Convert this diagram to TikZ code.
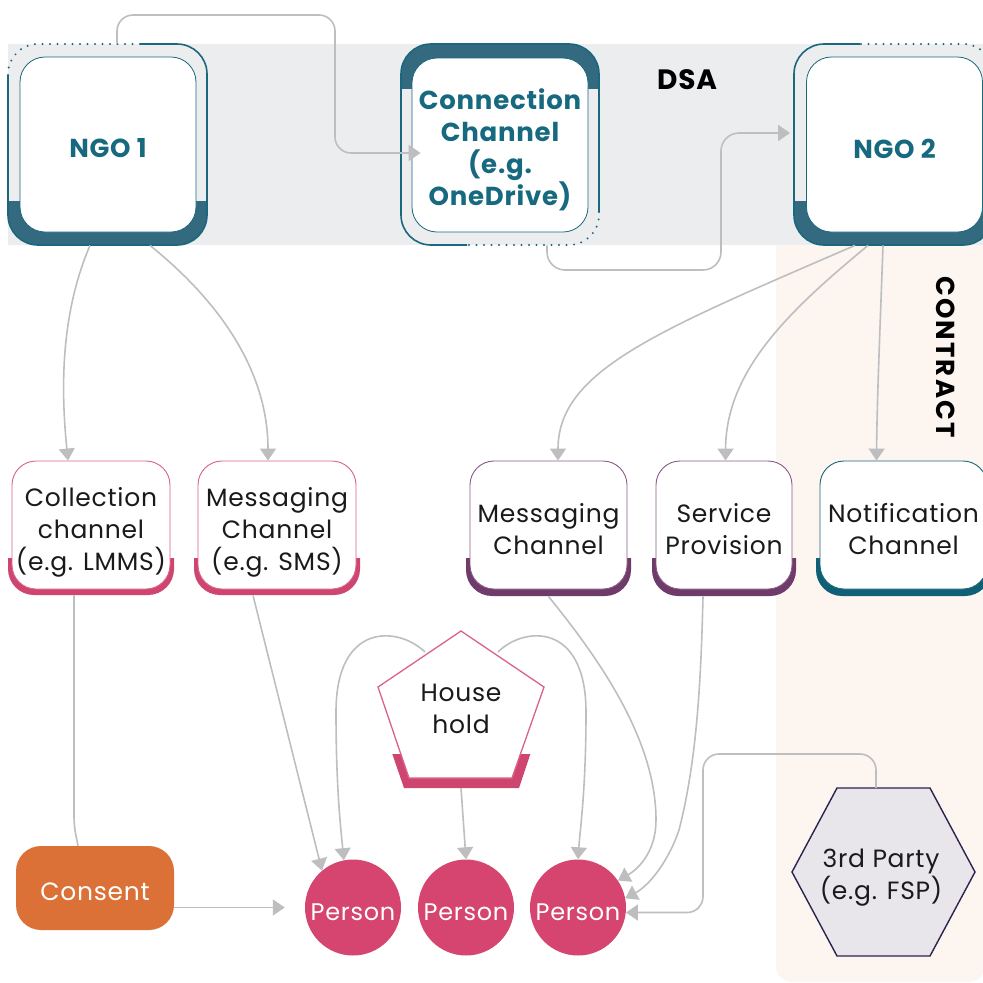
\documentclass[tikz,border=0pt]{standalone}
\usepackage{fontspec}
\setmainfont{Poppins}[LetterSpace=3]
\usetikzlibrary{arrows.meta,calc}
\definecolor{dsabg}{HTML}{ECEDEF}
\definecolor{ctbg}{HTML}{FCF5F0}
\definecolor{tealline}{HTML}{1B677D}
\definecolor{tealband}{HTML}{336A80}
\definecolor{tealtext}{HTML}{17697F}
\definecolor{pinkband}{HTML}{CE4670}
\definecolor{pinkline}{HTML}{DA6289}
\definecolor{purpband}{HTML}{6E3B6A}
\definecolor{purpline}{HTML}{8A5A86}
\definecolor{notband}{HTML}{0F6077}
\definecolor{conncol}{HTML}{BDBEC0}
\definecolor{personcol}{HTML}{D5456F}
\definecolor{consentcol}{HTML}{DC7138}
\definecolor{hexfill}{HTML}{E8E6EB}
\definecolor{hexline}{HTML}{2C2350}
\definecolor{txt}{HTML}{1A1A1A}
\begin{document}
\begin{tikzpicture}[x=1pt,y=-1pt,
 conn/.style={draw=conncol,line width=1.6pt,-{Triangle[length=12pt,width=16pt]}},
 plainconn/.style={draw=conncol,line width=1.6pt},
 ngobox/.style={draw=tealline,line width=0.8pt,fill=white,rounded corners=25pt,minimum width=176pt,minimum height=175pt,inner sep=0pt},
 ngotext/.style={align=center,text=tealtext,inner sep=0pt,font=\fontsize{26}{32}\selectfont\bfseries},
 chan/.style={draw=#1,line width=0.9pt,fill=white,rounded corners=24pt,minimum height=128pt,inner sep=0pt},
 chantext/.style={align=center,text=txt,font=\fontsize{25}{32}\selectfont,inner sep=0pt},
 person/.style={circle,fill=personcol,minimum size=96pt,inner sep=0pt,text=white,text height=25pt,text depth=0pt,font=\fontsize{24}{28}\selectfont},
 dotline/.style={draw=tealline,line width=2.2pt,dash pattern=on 0pt off 7.5pt,line cap=round},
 outline/.style={draw=tealline,line width=1.6pt},
 plaintext/.style={align=center,text=txt,font=\fontsize{25}{32}\selectfont,inner sep=0pt},
]
\useasboundingbox (0,0) rectangle (983,983);
\clip (0,0) rectangle (983,983);
% backgrounds
\fill[ctbg,rounded corners=16pt] (776,200) rectangle (985,982);
\fill[dsabg] (8,44) rectangle (990,245);

% NGO 1 frame
\begin{scope}
\clip (0,201) rectangle (220,260);
\fill[tealband,rounded corners=30pt] (8,44) rectangle (207,245);
\end{scope}
\draw[outline,rounded corners=30pt] (140,44) -- (207,44) -- (207,245) -- (8,245) -- (8,75);
\draw[dotline,rounded corners=30pt] (8,75) -- (8,44) -- (140,44);
% Connection channel frame
\begin{scope}
\clip (390,30) rectangle (610,88);
\fill[tealband,rounded corners=30pt] (401,44) rectangle (599,245);
\end{scope}
\draw[outline,rounded corners=30pt] (467,245) -- (401,245) -- (401,44) -- (599,44) -- (599,212);
\draw[dotline,rounded corners=30pt] (599,212) -- (599,245) -- (467,245);
% NGO 2 frame
\begin{scope}
\clip (780,201) rectangle (1000,260);
\fill[tealband,rounded corners=30pt] (794,44) rectangle (993,245);
\end{scope}
\draw[outline,rounded corners=30pt] (860,44) -- (794,44) -- (794,245) -- (993,245) -- (993,75);
\draw[dotline,rounded corners=30pt] (993,75) -- (993,44) -- (860,44);

\node[ngobox,label={[ngotext,yshift=-4pt]center:NGO 1}] (n1) at (108,144.5) {};
\node[ngobox,minimum height=174pt,label={[ngotext,yshift=-5pt]center:{Connection\\Channel\\(e.g.\\OneDrive)}}] (cc) at (500,145) {};
\node[ngobox,label={[ngotext,yshift=-4pt]center:NGO 2}] (n2) at (894.5,144.5) {};

\node[font=\fontsize{28}{30}\selectfont\bfseries,text=black] (dsa) at (687,80) {DSA};
\node[font=\fontsize{26}{28}\selectfont\bfseries\addfontfeatures{LetterSpace=8},text=black,rotate=-90] (ct) at (946,357) {CONTRACT};

% channel bands
\begin{scope}
\clip (0,558) rectangle (983,600);
\fill[pinkband,rounded corners=26pt] (8,461) rectangle (174,595);
\fill[pinkband,rounded corners=26pt] (194,461) rectangle (360,595);
\fill[purpband,rounded corners=26pt] (466,461) rectangle (631,596);
\fill[purpband,rounded corners=26pt] (652,461) rectangle (796,596);
\fill[notband,rounded corners=26pt] (816,461) rectangle (991,596);
\end{scope}
\node[chan=pinkline,minimum width=158pt,label={[chantext,yshift=-7pt]center:{Collection\\channel\\(e.g. LMMS)}}] (c1) at (91,525) {};
\node[chan=pinkline,minimum width=158pt,label={[chantext,yshift=-7pt]center:{Messaging\\Channel\\(e.g. SMS)}}] (c2) at (277,525) {};
\node[chan=purpline,minimum width=157pt,label={[chantext,yshift=-4pt]center:{Messaging\\Channel}}] (m2) at (548.5,525) {};
\node[chan=purpline,minimum width=136pt,label={[chantext,yshift=-4pt]center:{Service\\Provision}}] (sp) at (724,525) {};
\node[chan=tealline,minimum width=167pt,label={[chantext,yshift=-4pt]center:{Notification\\Channel}}] (nc) at (903.5,525) {};

% household
\begin{scope}
\clip (360,754) rectangle (560,800);
\fill[pinkband] (461,636) -- (551,692) -- (519,788) -- (404,788) -- (371,692) -- cycle;
\end{scope}
\draw[draw=pinkline,line width=1.3pt,fill=white] (461,631) -- (544,687) -- (512,778) -- (409,778) -- (378,687) -- cycle;
\node[plaintext] (hh) at (461,709) {House\\hold};
\coordinate (hhL) at (425,652);
\coordinate (hhR) at (498,652);
\coordinate (hhB) at (461,788);

% third party
\draw[draw=hexline,line width=1.4pt,fill=hexfill] (837,788) -- (930,788) -- (975,872) -- (930,956) -- (837,956) -- (792,872) -- cycle;
\node[plaintext] (tp) at (881,878) {3rd Party\\(e.g. FSP)};
\coordinate (tpT) at (876,788);

% consent and persons
\node[fill=consentcol,rounded corners=25pt,minimum width=158pt,minimum height=84pt,inner sep=0pt,text=white,text height=24pt,text depth=0pt,font=\fontsize{25}{30}\selectfont] (cons) at (95,888) {Consent};
\node[person] (p1) at (353,907.5) {Person};
\node[person] (p2) at (466,907.5) {Person};
\node[person] (p3) at (578,907.5) {Person};

% connectors
\draw[conn,rounded corners=16pt] ([xshift=9pt,yshift=13pt]n1.north) |- (335,15) |- ([xshift=9pt,yshift=-8pt]cc.west);
\draw[conn,rounded corners=18pt] ([xshift=47pt,yshift=-13pt]cc.south) |- (721,270) |- ([xshift=-16pt,yshift=11.5pt]n2.west);
\draw[conn] ([xshift=-18pt,yshift=-13pt]n1.south) .. controls (58,320) and (62,400) .. ([xshift=-23pt]c1.north);
\draw[conn] ([xshift=42pt,yshift=-13pt]n1.south) .. controls (230,310) and (268,380) .. ([xshift=-9pt]c2.north);
\draw[conn] ([xshift=-39.5pt,yshift=-13pt]n2.south) .. controls (660,330) and (558,370) .. ([xshift=9.5pt]m2.north);
\draw[conn] ([xshift=-26.5pt,yshift=-13pt]n2.south) .. controls (790,310) and (726,370) .. ([xshift=1.5pt]sp.north);
\draw[conn] ([xshift=-11.5pt,yshift=-13pt]n2.south) .. controls (880,330) and (877,400) .. ([xshift=-27pt]nc.north);
\draw[plainconn] ([xshift=-17pt,yshift=-6pt]c1.south) -- (74,815) .. controls (74,832) and (77,838) .. ([xshift=-17pt]cons.north);
\draw[conn] ([yshift=-19.5pt]cons.east) -- ([xshift=-20pt]p1.west);
\draw[conn] ([xshift=-24pt,yshift=-6pt]c2.south) -- (p1.130);
\draw[conn] (hhL) .. controls (398,626) and (336,622) .. (336,712) .. controls (336,790) and (341,830) .. (p1.101);
\draw[conn] (hhR) .. controls (524,626) and (586,622) .. (586,712) .. controls (586,790) and (580,830) .. (p3.north);
\draw[conn] (hhB) -- (p2.north);
\draw[conn] ([yshift=-7pt]m2.south) .. controls (600,660) and (656,740) .. (656,820) .. controls (656,850) and (640,868) .. (p3.34);
\draw[conn] ([xshift=-21pt,yshift=-7pt]sp.south) .. controls (701,680) and (697,760) .. (679,830) .. controls (669,860) and (650,885) .. (p3.11);
\draw[conn,rounded corners=16pt] (tpT) |- (703,754) |- (p3.-6);
\end{tikzpicture}
\end{document}
